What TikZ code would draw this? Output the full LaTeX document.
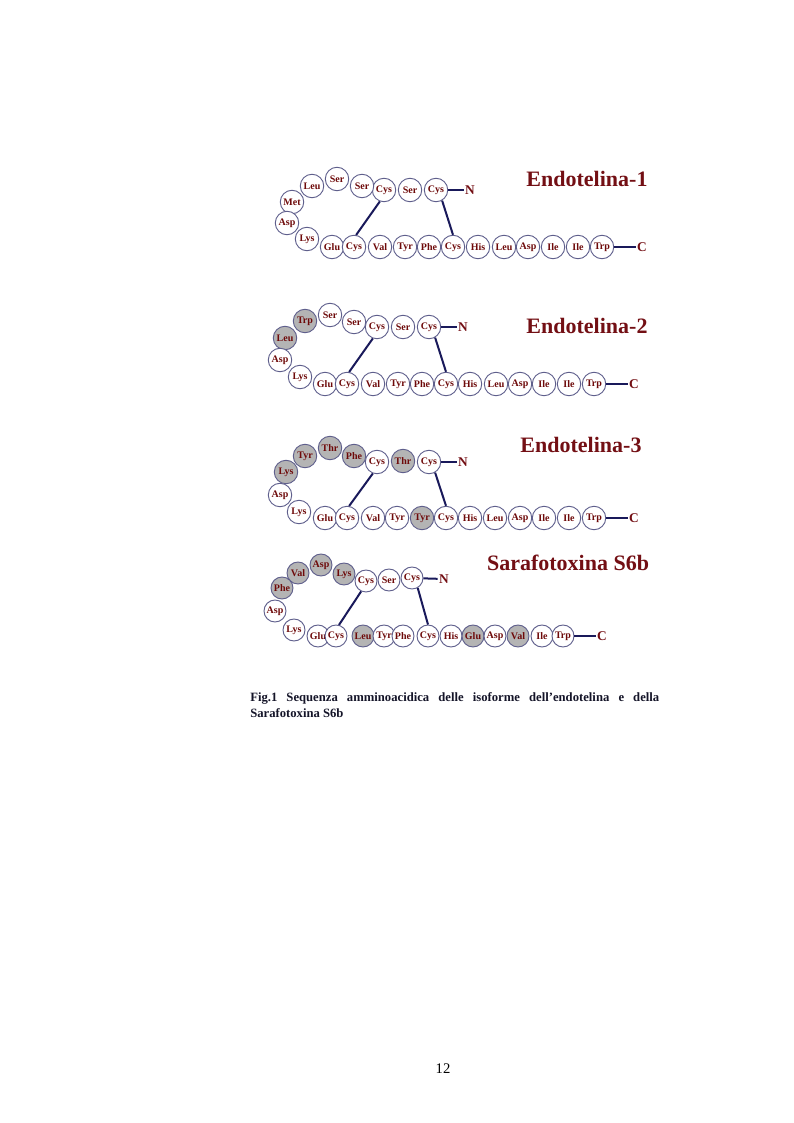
\documentclass[tikz,border=0pt]{standalone}
\usepackage{fontspec}
\setmainfont{Liberation Serif}
\usepackage{tikz}
\definecolor{ringcol}{RGB}{95,95,140}
\definecolor{shadecol}{RGB}{180,180,180}
\definecolor{aacol}{RGB}{110,10,10}
\definecolor{titlecol}{RGB}{115,15,20}
\definecolor{bondcol}{RGB}{25,25,90}
\definecolor{capcol}{RGB}{20,20,40}

\begin{document}
\begin{tikzpicture}[x=0.75pt, y=-0.75pt,
    aa/.style={circle, draw=ringcol, line width=0.7pt, minimum size=17.6pt, inner sep=0pt, fill=white, text=aacol, font=\bfseries\fontsize{7.5}{8}\selectfont},
    aash/.style={aa, fill=shadecol},
    aasm/.style={aa, minimum size=16.5pt},
    aasmsh/.style={aasm, fill=shadecol},
    bond/.style={draw=bondcol, line width=1.5pt},
    term/.style={text=titlecol, font=\bfseries\fontsize{10}{12}\selectfont, inner sep=1pt},
    titolo/.style={text=titlecol, font=\bfseries\fontsize{16.5}{18}\selectfont, anchor=base}]

    \useasboundingbox (0,0) rectangle (793,1123);

    \node[aa] (e1t1) at (436,190) {Cys};
    \node[aa] (e1t2) at (410,190) {Ser};
    \node[aa] (e1t3) at (384,190) {Cys};
    \node[aa] (e1t4) at (362,186) {Ser};
    \node[aa] (e1t5) at (337,179) {Ser};
    \node[aa] (e1t6) at (312,186) {Leu};
    \node[aa] (e1t7) at (292,202) {Met};
    \node[aa] (e1t8) at (287,223) {Asp};
    \node[aa] (e1t9) at (307,239) {Lys};
    \node[aa] (e1b1) at (332,247) {Glu};
    \node[aa] (e1b2) at (354,247) {Cys};
    \node[aa] (e1b3) at (380,247) {Val};
    \node[aa] (e1b4) at (405,247) {Tyr};
    \node[aa] (e1b5) at (429,247) {Phe};
    \node[aa] (e1b6) at (453,247) {Cys};
    \node[aa] (e1b7) at (478,247) {His};
    \node[aa] (e1b8) at (504,247) {Leu};
    \node[aa] (e1b9) at (528,247) {Asp};
    \node[aa] (e1b10) at (553,247) {Ile};
    \node[aa] (e1b11) at (578,247) {Ile};
    \node[aa] (e1b12) at (602,247) {Trp};
    \node[term] (e1N) at (470,190) {N};
    \node[term] (e1C) at (642,247) {C};
    \draw[bond] (e1t1) -- (e1N);
    \draw[bond] (e1b12) -- (e1C);
    \draw[bond] (e1t3.250) -- (e1b2.80);
    \draw[bond] (e1t1.-60) -- (e1b6.north);
    \node[titolo] (e1tit) at (587,186.5) {Endotelina-1};

    \node[aa] (e2t1) at (429,327) {Cys};
    \node[aa] (e2t2) at (403,327) {Ser};
    \node[aa] (e2t3) at (377,327) {Cys};
    \node[aa] (e2t4) at (354,322) {Ser};
    \node[aa] (e2t5) at (330,315) {Ser};
    \node[aash] (e2t6) at (305,321) {Trp};
    \node[aash] (e2t7) at (285,338) {Leu};
    \node[aa] (e2t8) at (280,360) {Asp};
    \node[aa] (e2t9) at (300,377) {Lys};
    \node[aa] (e2b1) at (325,384) {Glu};
    \node[aa] (e2b2) at (347,384) {Cys};
    \node[aa] (e2b3) at (373,384) {Val};
    \node[aa] (e2b4) at (398,384) {Tyr};
    \node[aa] (e2b5) at (422,384) {Phe};
    \node[aa] (e2b6) at (446,384) {Cys};
    \node[aa] (e2b7) at (470,384) {His};
    \node[aa] (e2b8) at (496,384) {Leu};
    \node[aa] (e2b9) at (520,384) {Asp};
    \node[aa] (e2b10) at (544,384) {Ile};
    \node[aa] (e2b11) at (569,384) {Ile};
    \node[aa] (e2b12) at (594,384) {Trp};
    \node[term] (e2N) at (463,327) {N};
    \node[term] (e2C) at (634,384) {C};
    \draw[bond] (e2t1) -- (e2N);
    \draw[bond] (e2b12) -- (e2C);
    \draw[bond] (e2t3.250) -- (e2b2.80);
    \draw[bond] (e2t1.-60) -- (e2b6.north);
    \node[titolo] (e2tit) at (587,333) {Endotelina-2};

    \node[aa] (e3t1) at (429,462) {Cys};
    \node[aash] (e3t2) at (403,461) {Thr};
    \node[aa] (e3t3) at (377,462) {Cys};
    \node[aash] (e3t4) at (354,456) {Phe};
    \node[aash] (e3t5) at (330,448) {Thr};
    \node[aash] (e3t6) at (305,456) {Tyr};
    \node[aash] (e3t7) at (286,472) {Lys};
    \node[aa] (e3t8) at (280,495) {Asp};
    \node[aa] (e3t9) at (299,512) {Lys};
    \node[aa] (e3b1) at (325,518) {Glu};
    \node[aa] (e3b2) at (347,518) {Cys};
    \node[aa] (e3b3) at (373,518) {Val};
    \node[aa] (e3b4) at (397,518) {Tyr};
    \node[aash] (e3b5) at (422,518) {Tyr};
    \node[aa] (e3b6) at (446,518) {Cys};
    \node[aa] (e3b7) at (470,518) {His};
    \node[aa] (e3b8) at (495,518) {Leu};
    \node[aa] (e3b9) at (520,518) {Asp};
    \node[aa] (e3b10) at (544,518) {Ile};
    \node[aa] (e3b11) at (569,518) {Ile};
    \node[aa] (e3b12) at (594,518) {Trp};
    \node[term] (e3N) at (463,462) {N};
    \node[term] (e3C) at (634,518) {C};
    \draw[bond] (e3t1) -- (e3N);
    \draw[bond] (e3b12) -- (e3C);
    \draw[bond] (e3t3.250) -- (e3b2.80);
    \draw[bond] (e3t1.-60) -- (e3b6.north);
    \node[titolo] (e3tit) at (581,452) {Endotelina-3};

    \node[aasm] (s6t1) at (412,578) {Cys};
    \node[aasm] (s6t2) at (389,580) {Ser};
    \node[aasm] (s6t3) at (366,581) {Cys};
    \node[aasmsh] (s6t4) at (344,574) {Lys};
    \node[aasmsh] (s6t5) at (321,565) {Asp};
    \node[aasmsh] (s6t6) at (298,573) {Val};
    \node[aasmsh] (s6t7) at (282,588) {Phe};
    \node[aasm] (s6t8) at (275,611) {Asp};
    \node[aasm] (s6t9) at (294,630) {Lys};
    \node[aasm] (s6b1) at (318,636) {Glu};
    \node[aasm] (s6b2) at (336,636) {Cys};
    \node[aasmsh] (s6b3) at (363,636) {Leu};
    \node[aasm] (s6b4) at (384,636) {Tyr};
    \node[aasm] (s6b5) at (403,636) {Phe};
    \node[aasm] (s6b6) at (428,636) {Cys};
    \node[aasm] (s6b7) at (451,636) {His};
    \node[aasmsh] (s6b8) at (473,636) {Glu};
    \node[aasm] (s6b9) at (495,636) {Asp};
    \node[aasmsh] (s6b10) at (518,636) {Val};
    \node[aasm] (s6b11) at (542,636) {Ile};
    \node[aasm] (s6b12) at (563,636) {Trp};
    \node[term] (s6N) at (444,579) {N};
    \node[term] (s6C) at (602,636) {C};
    \draw[bond] (s6t1) -- (s6N);
    \draw[bond] (s6b12) -- (s6C);
    \draw[bond] (s6t3.245) -- (s6b2.75);
    \draw[bond] (s6t1.-60) -- (s6b6.north);
    \node[titolo] (s6tit) at (568,570) {Sarafotoxina S6b};

    \node[anchor=base west, inner sep=0pt, text=capcol, font=\bfseries\fontsize{9.5}{12}\selectfont] (cap1) at (250,701) {\makebox[306.75pt][s]{Fig.1 Sequenza amminoacidica delle isoforme dell’endotelina e della}};
    \node[anchor=base west, inner sep=0pt, text=capcol, font=\bfseries\fontsize{9.5}{12}\selectfont] (cap2) at (250,717) {Sarafotoxina S6b};

    \node[anchor=base, font=\fontsize{11}{13}\selectfont] (pagnum) at (443,1073) {12};

\end{tikzpicture}
\end{document}
